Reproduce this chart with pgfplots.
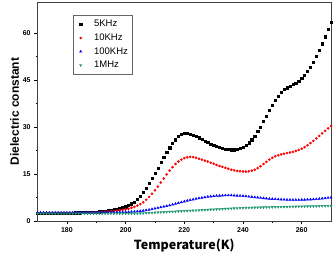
\documentclass[border=0pt]{standalone}
\usepackage{pgfplots}
\pgfplotsset{compat=1.18}
\usepackage{pgfplotstable}
\usepackage{fontspec}
\setmainfont{Liberation Sans}
\newfontfamily\cjk{Noto Sans CJK SC}
\definecolor{cgreen}{RGB}{30,150,110}
\pgfplotstableread{
T v
170 2.5
171 2.5
172 2.5
173 2.5
174 2.5
175 2.5
176 2.55
177 2.55
178 2.55
179 2.6
180 2.6
181 2.6
182 2.6
183 2.65
184 2.65
185 2.7
186 2.7
187 2.75
188 2.8
189 2.85
190 2.9
191 3.0
192 3.1
193 3.2
194 3.35
195 3.5
196 3.65
197 3.85
198 4.05
199 4.3
200 4.6
201 5.0
202 5.5
203 6.1
204 6.9
205 7.9
206 9.1
207 10.5
208 12.0
209 13.6
210 15.3
211 17.0
212 18.7
213 20.3
214 21.9
215 23.4
216 24.8
217 26.0
218 27.0
219 27.7
220 28.0
221 28.0
222 27.8
223 27.5
224 27.1
225 26.6
226 26.1
227 25.6
228 25.1
229 24.6
230 24.2
231 23.8
232 23.5
233 23.2
234 23.0
235 22.9
236 22.8
237 22.8
238 22.9
239 23.2
240 23.6
241 24.2
242 25.0
243 26.0
244 27.2
245 28.6
246 30.1
247 31.8
248 33.5
249 35.3
250 37.0
251 38.6
252 40.0
253 41.1
254 42.0
255 42.6
256 43.1
257 43.6
258 44.1
259 44.8
260 45.6
261 46.6
262 47.8
263 49.2
264 50.8
265 52.6
266 54.6
267 56.7
268 58.9
269 61.2
270 63.5
}\tfive
\pgfplotstableread{
T v
170 2.6
171 2.6
172 2.6
173 2.6
174 2.6
175 2.6
176 2.6
177 2.6
178 2.6
179 2.6
180 2.6
181 2.6
182 2.6
183 2.6
184 2.6
185 2.6
186 2.65
187 2.7
188 2.7
189 2.75
190 2.8
191 2.85
192 2.9
193 3.0
194 3.05
195 3.1
196 3.2
197 3.3
198 3.4
199 3.55
200 3.7
201 3.9
202 4.2
203 4.5
204 4.9
205 5.4
206 6.0
207 6.8
208 7.7
209 8.7
210 9.8
211 11.0
212 12.3
213 13.6
214 14.9
215 16.1
216 17.2
217 18.2
218 19.0
219 19.6
220 20.1
221 20.4
222 20.5
223 20.4
224 20.2
225 19.9
226 19.6
227 19.3
228 19.0
229 18.6
230 18.3
231 17.9
232 17.6
233 17.3
234 17.0
235 16.7
236 16.4
237 16.2
238 16.0
239 15.9
240 15.8
241 15.8
242 15.9
243 16.1
244 16.4
245 16.9
246 17.5
247 18.2
248 18.9
249 19.6
250 20.2
251 20.7
252 21.0
253 21.3
254 21.5
255 21.7
256 21.9
257 22.1
258 22.4
259 22.7
260 23.1
261 23.6
262 24.2
263 24.9
264 25.6
265 26.4
266 27.2
267 28.0
268 28.8
269 29.6
270 30.4
}\tten
\pgfplotstableread{
T v
170 2.7
171 2.7
172 2.7
173 2.7
174 2.7
175 2.7
176 2.7
177 2.7
178 2.7
179 2.7
180 2.7
181 2.7
182 2.7
183 2.7
184 2.7
185 2.7
186 2.7
187 2.7
188 2.7
189 2.7
190 2.72
191 2.72
192 2.74
193 2.75
194 2.76
195 2.78
196 2.8
197 2.8
198 2.85
199 2.85
200 2.9
201 2.9
202 2.95
203 3.0
204 3.1
205 3.2
206 3.3
207 3.45
208 3.6
209 3.8
210 4.0
211 4.2
212 4.4
213 4.6
214 4.8
215 5.0
216 5.25
217 5.5
218 5.75
219 6.0
220 6.25
221 6.5
222 6.7
223 6.9
224 7.1
225 7.3
226 7.45
227 7.6
228 7.75
229 7.85
230 7.95
231 8.05
232 8.1
233 8.15
234 8.2
235 8.2
236 8.2
237 8.15
238 8.1
239 8.05
240 8.0
241 7.9
242 7.8
243 7.7
244 7.6
245 7.5
246 7.4
247 7.3
248 7.2
249 7.1
250 7.05
251 7.0
252 6.95
253 6.9
254 6.85
255 6.8
256 6.8
257 6.75
258 6.75
259 6.75
260 6.8
261 6.8
262 6.85
263 6.9
264 6.95
265 7.0
266 7.1
267 7.2
268 7.3
269 7.4
270 7.5
}\thund
\pgfplotstableread{
T v
170 2.4
171 2.4
172 2.4
173 2.4
174 2.4
175 2.4
176 2.4
177 2.4
178 2.4
179 2.4
180 2.4
181 2.4
182 2.4
183 2.4
184 2.4
185 2.4
186 2.4
187 2.4
188 2.4
189 2.4
190 2.4
191 2.4
192 2.4
193 2.4
194 2.4
195 2.4
196 2.4
197 2.4
198 2.4
199 2.4
200 2.4
201 2.41
202 2.42
203 2.43
204 2.44
205 2.45
206 2.5
207 2.55
208 2.6
209 2.65
210 2.7
211 2.75
212 2.8
213 2.85
214 2.9
215 2.95
216 3.0
217 3.05
218 3.1
219 3.15
220 3.2
221 3.25
222 3.3
223 3.35
224 3.4
225 3.45
226 3.5
227 3.55
228 3.6
229 3.65
230 3.7
231 3.75
232 3.8
233 3.85
234 3.9
235 3.95
236 4.0
237 4.05
238 4.1
239 4.15
240 4.2
241 4.22
242 4.25
243 4.28
244 4.3
245 4.33
246 4.35
247 4.38
248 4.4
249 4.42
250 4.45
251 4.47
252 4.49
253 4.51
254 4.53
255 4.55
256 4.57
257 4.59
258 4.61
259 4.63
260 4.65
261 4.67
262 4.69
263 4.71
264 4.73
265 4.75
266 4.77
267 4.79
268 4.8
269 4.82
270 4.85
}\tmhz
\begin{document}
\begin{tikzpicture}
\begin{axis}[
  name=ax,
  scale only axis,
  width=293.4pt, height=219pt,
  xmin=170, xmax=270, ymin=0, ymax=70,
  xtick={180,200,220,240,260},
  ytick={0,15,30,45,60},
  minor x tick num=1,
  minor y tick num=1,
  tick pos=left,
  tick align=outside,
  major tick length=3.5pt,
  minor tick length=2pt,
  axis line style={line width=0.7pt, black!75},
  every tick/.style={black, line width=0.6pt},
  ticklabel style={font=\fontsize{7}{8}\selectfont\bfseries},
  /pgf/number format/assume math mode=true,
  xlabel={\cjk\bfseries\fontsize{12.5}{15}\selectfont Temperature(K)},
  ylabel={\fontsize{12}{14}\selectfont\bfseries Dielectric constant},
  xlabel style={yshift=1pt},
  ylabel style={yshift=-3pt},
  legend style={at={(0.12,0.94)}, anchor=north west, draw=black!60,
    font=\fontsize{9.5}{11}\selectfont, row sep=1.5pt, inner xsep=2pt, inner ysep=3pt,
    cells={anchor=west}},
  legend cell align=left,
  legend image code/.code={\path[draw=none,fill=none] (0cm,0cm) -- (0.6cm,0cm); \draw[#1] plot coordinates {(0.2cm,0cm)};},
]
\addplot[only marks, mark=square*, mark size=1.1pt, black] table[x=T,y=v]{\tfive};
\addlegendentry{5KHz}
\addplot[only marks, mark=*, mark size=1.1pt, red] table[x=T,y=v]{\tten};
\addlegendentry{10KHz}
\addplot[only marks, mark=triangle*, mark size=1.3pt, blue] table[x=T,y=v]{\thund};
\addlegendentry{100KHz}
\addplot[only marks, mark=triangle*, mark options={rotate=180}, mark size=1.3pt, cgreen] table[x=T,y=v]{\tmhz};
\addlegendentry{1MHz}
\end{axis}
\pgfresetboundingbox
\path ([xshift=-37.6pt,yshift=-38pt]ax.south west) rectangle ([xshift=3pt,yshift=2pt]ax.north east);
\end{tikzpicture}
\end{document}
